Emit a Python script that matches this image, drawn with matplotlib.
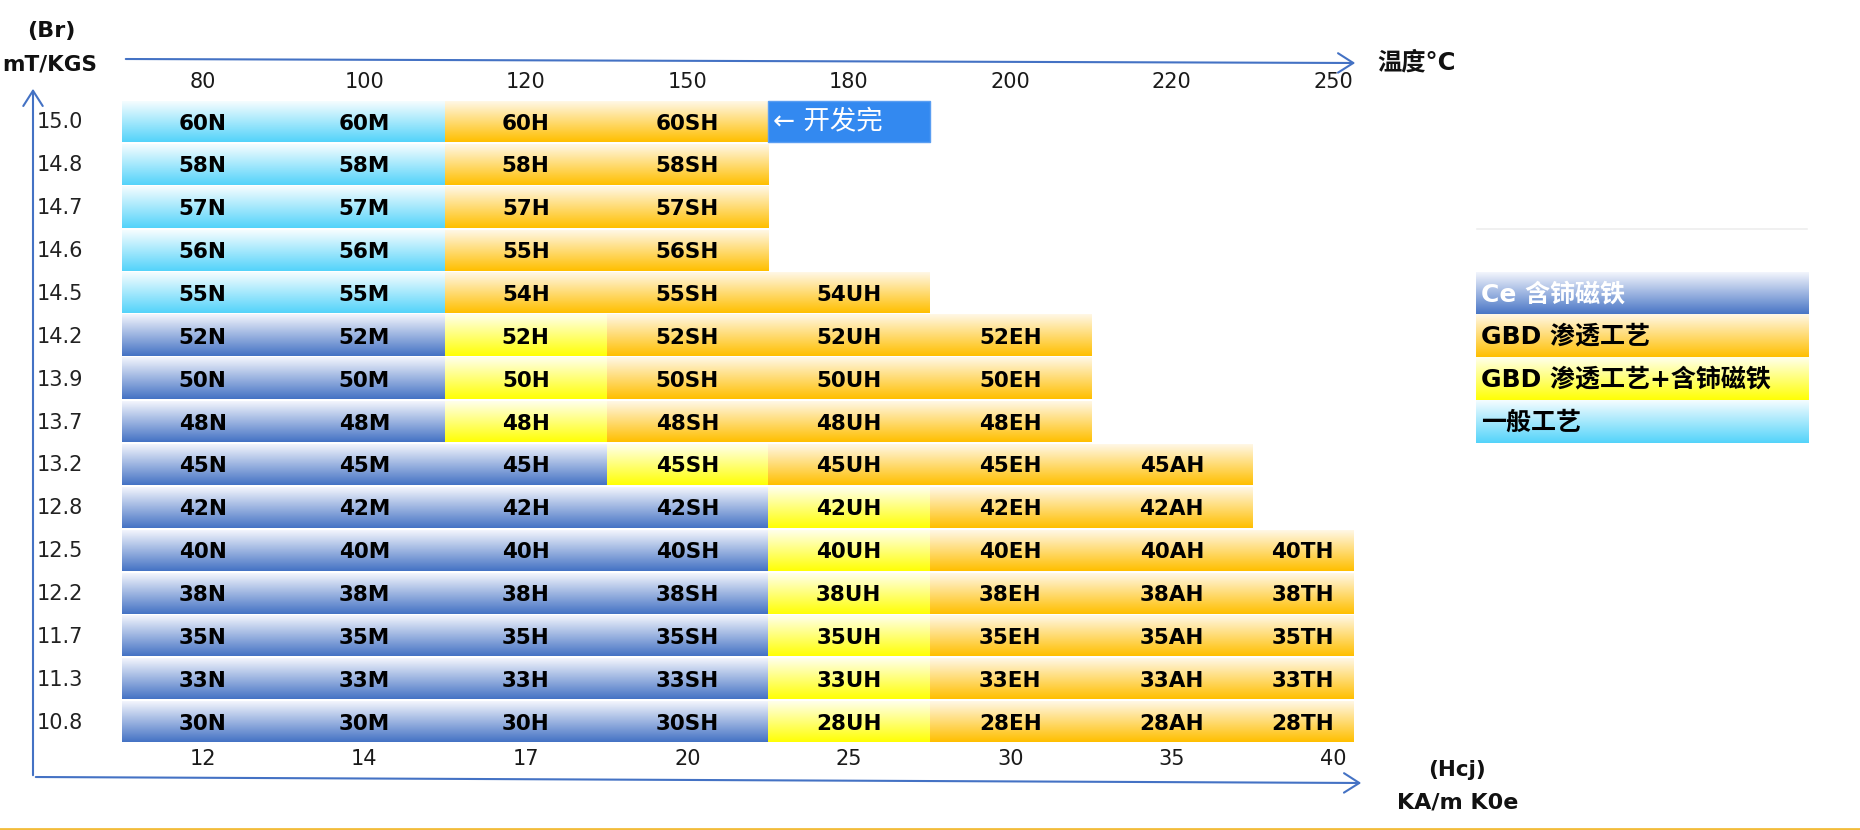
import numpy as np
import matplotlib.pyplot as plt
from matplotlib.patches import FancyArrowPatch, Rectangle

plt.rcParams["font.family"] = ["DejaVu Sans", "Noto Sans CJK SC"]

# --- data ----------------------------------------------------------------------
br_labels = ["15.0", "14.8", "14.7", "14.6", "14.5", "14.2", "13.9", "13.7",
             "13.2", "12.8", "12.5", "12.2", "11.7", "11.3", "10.8"]
temp_labels = ["80", "100", "120", "150", "180", "200", "220", "250"]
hcj_labels = ["12", "14", "17", "20", "25", "30", "35", "40"]

grades = [
    ["60N", "60M", "60H", "60SH"],
    ["58N", "58M", "58H", "58SH"],
    ["57N", "57M", "57H", "57SH"],
    ["56N", "56M", "55H", "56SH"],
    ["55N", "55M", "54H", "55SH", "54UH"],
    ["52N", "52M", "52H", "52SH", "52UH", "52EH"],
    ["50N", "50M", "50H", "50SH", "50UH", "50EH"],
    ["48N", "48M", "48H", "48SH", "48UH", "48EH"],
    ["45N", "45M", "45H", "45SH", "45UH", "45EH", "45AH"],
    ["42N", "42M", "42H", "42SH", "42UH", "42EH", "42AH"],
    ["40N", "40M", "40H", "40SH", "40UH", "40EH", "40AH", "40TH"],
    ["38N", "38M", "38H", "38SH", "38UH", "38EH", "38AH", "38TH"],
    ["35N", "35M", "35H", "35SH", "35UH", "35EH", "35AH", "35TH"],
    ["33N", "33M", "33H", "33SH", "33UH", "33EH", "33AH", "33TH"],
    ["30N", "30M", "30H", "30SH", "28UH", "28EH", "28AH", "28TH"],
]
# C = 一般工艺, O = GBD 渗透工艺, Y = GBD+含铈, B = Ce 含铈磁铁
kinds = [
    "CCOO", "CCOO", "CCOO", "CCOO", "CCOOO",
    "BBYOOO", "BBYOOO", "BBYOOO",
    "BBBYOOO", "BBBBYOO",
    "BBBBYOOO", "BBBBYOOO", "BBBBYOOO", "BBBBYOOO", "BBBBYOOO",
]
legend_kinds = ["B", "O", "Y", "C"]
legend_labels = ["Ce 含铈磁铁", "GBD 渗透工艺", "GBD 渗透工艺+含铈磁铁", "一般工艺"]
dev_note = "← 开发完"

# --- style ---------------------------------------------------------------------
GRAD = {
    "B": ((0.95, 0.96, 0.99), (0.27, 0.45, 0.77)),
    "O": ((1.00, 0.97, 0.90), (1.00, 0.75, 0.00)),
    "Y": ((1.00, 1.00, 0.92), (1.00, 1.00, 0.02)),
    "C": ((0.96, 0.99, 1.00), (0.33, 0.83, 0.98)),
}
AXIS_BLUE = "#4472C4"

LEFT, CW = 122, 161.5          # table left edge and column width (px)
RIGHT = 1353                   # last column is cut short
TOP, RH, CH = 101, 42.87, 41   # first row top, row pitch, cell height

fig = plt.figure(figsize=(18.6, 8.3), dpi=100)
ax = fig.add_axes([0, 0, 1, 1])


def grad_box(x0, x1, y0, y1, kind):
    top, bot = (np.array(c) for c in GRAD[kind])
    t = np.linspace(0, 1, 64)[:, None]
    img = ((1 - t) * top + t * bot).reshape(64, 1, 3)
    ax.imshow(img, extent=(x0, x1, y1, y0), aspect="auto",
              interpolation="bilinear", zorder=1)


# table cells
for i, (row, kr) in enumerate(zip(grades, kinds)):
    y0 = TOP + i * RH
    for j, (g, k) in enumerate(zip(row, kr)):
        x0 = LEFT + j * CW
        x1 = min(x0 + CW, RIGHT)
        grad_box(x0, x1, y0, y0 + CH, k)
        ax.text((x0 + x1) / 2, y0 + CH / 2 + 2, g, ha="center", va="center",
                fontsize=15.5, fontweight="bold", color="black", zorder=3)
    ax.text(60, y0 + CH / 2 + 1, br_labels[i], ha="center", va="center",
            fontsize=15, color="#222222")

# "开发完" box
bx0 = LEFT + 4 * CW
ax.add_patch(Rectangle((bx0, TOP), CW, CH, facecolor="#3389F0",
                       edgecolor="#5A9EF2", lw=1, zorder=2))
ax.text(bx0 + 5, TOP + CH / 2, dev_note, ha="left", va="center",
        fontsize=19, color="white", zorder=3)

# column labels
for j in range(len(temp_labels)):
    xc = LEFT + (j + 0.5) * CW
    ax.text(xc, 82, temp_labels[j], ha="center", va="center",
            fontsize=15, color="#1a1a1a")
    ax.text(xc, 759, hcj_labels[j], ha="center", va="center",
            fontsize=15, color="#1a1a1a")

# axis arrows
arrow_kw = dict(arrowstyle="->,head_length=0.55,head_width=0.35",
                mutation_scale=20, color=AXIS_BLUE, lw=1.5, zorder=4)
ax.add_patch(FancyArrowPatch((123, 59), (1358, 63), **arrow_kw))
ax.add_patch(FancyArrowPatch((33, 777), (1364, 783), **arrow_kw))
ax.add_patch(FancyArrowPatch((33, 778), (33, 86), **arrow_kw))

# axis titles
ax.text(51, 31, "(Br)", ha="center", va="center", fontsize=16,
        fontweight="bold", color="#111111")
ax.text(50, 65, "mT/KGS", ha="center", va="center", fontsize=15.5,
        fontweight="bold", color="#111111")
ax.text(1377, 63, "温度°C", ha="left", va="center", fontsize=17.5,
        fontweight="bold", color="#111111")
ax.text(1457, 770, "(Hcj)", ha="center", va="center", fontsize=15.5,
        fontweight="bold", color="#111111")
ax.text(1458, 802, "KA/m K0e", ha="center", va="center", fontsize=16,
        fontweight="bold", color="#111111")

# legend
ax.plot([1477, 1807], [229, 229], color="#EEEEEE", lw=1.2)
for k, (kind, lab) in enumerate(zip(legend_kinds, legend_labels)):
    y0 = 272 + k * 42.75
    grad_box(1476, 1808, y0, y0 + 42.75, kind)
    ax.text(1481, y0 + 22, lab, ha="left", va="center", fontsize=18,
            fontweight="bold", color="white" if kind == "B" else "black",
            zorder=3)

# bottom rule
ax.plot([0, 1860], [828.5, 828.5], color="#F2BC3A", lw=2)

ax.set_xlim(0, 1860)
ax.set_ylim(830, 0)
ax.axis("off")

fig.savefig("out.png", dpi=100, facecolor="white")
